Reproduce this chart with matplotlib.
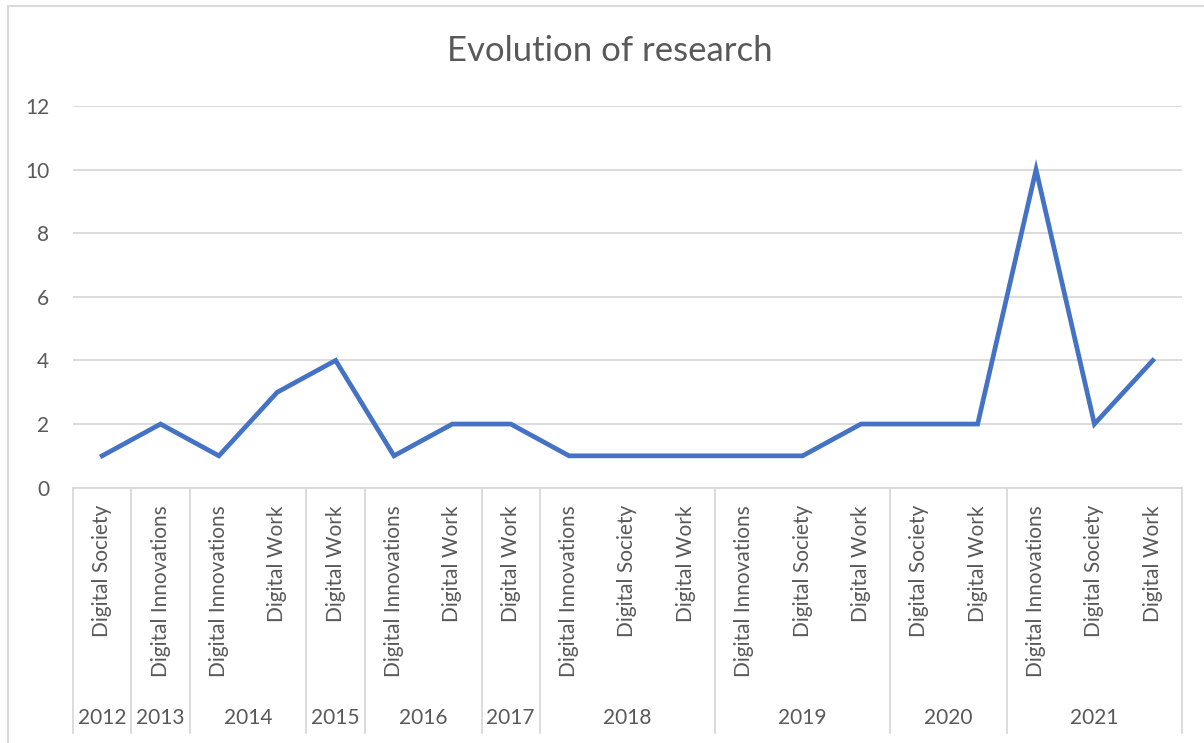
import matplotlib.pyplot as plt
from matplotlib.patches import Rectangle

years = ["2012", "2013", "2014", "2014", "2015", "2016", "2016", "2017",
         "2018", "2018", "2018", "2019", "2019", "2019", "2020", "2020",
         "2021", "2021", "2021"]
topics = ["Digital Society", "Digital Innovations", "Digital Innovations", "Digital Work",
          "Digital Work", "Digital Innovations", "Digital Work", "Digital Work",
          "Digital Innovations", "Digital Society", "Digital Work",
          "Digital Innovations", "Digital Society", "Digital Work",
          "Digital Society", "Digital Work",
          "Digital Innovations", "Digital Society", "Digital Work"]
counts = [1, 2, 1, 3, 4, 1, 2, 2, 1, 1, 1, 1, 1, 2, 2, 2, 10, 2, 4]

plt.rcParams['font.family'] = ['Lato', 'DejaVu Sans']
txt = "#595959"
grid = "#d9d9d9"
fs = 15

fig = plt.figure(figsize=(12.04, 7.43), dpi=100)
ax = fig.add_axes([0.0606, 0.3437, 0.9211, 0.5136])

x = list(range(len(counts)))
ax.plot(x, counts, color="#4472C4", linewidth=3.4, solid_joinstyle="miter", zorder=3)

ax.set_xlim(-0.5, len(counts) - 0.5)
ax.set_ylim(0, 12)
ax.set_yticks(range(0, 13, 2))
ax.yaxis.grid(True, color=grid, linewidth=1.3)
ax.set_axisbelow(True)
for s in ["top", "right", "left"]:
    ax.spines[s].set_visible(False)
ax.spines["bottom"].set_color(grid)
ax.spines["bottom"].set_linewidth(1.3)
ax.tick_params(axis="y", length=0, pad=17, labelsize=fs, labelcolor=txt)
ax.set_xticks([])

# etiquetas de categoria (rotadas)
for i, t in enumerate(topics):
    ax.text(i, -0.046, t, rotation=90, ha="center", va="top", fontsize=fs,
            color=txt, transform=ax.get_xaxis_transform())

# grupos por ano + linhas separadoras
bottom = -0.643
groups = []
for i, y in enumerate(years):
    if groups and groups[-1][0] == y:
        groups[-1][2] = i
    else:
        groups.append([y, i, i])
edges = [-0.5] + [g[2] + 0.5 for g in groups]
for e in edges:
    ax.plot([e, e], [0, bottom], color=grid, linewidth=1.3, clip_on=False,
            transform=ax.get_xaxis_transform())
for y, a, b in groups:
    ax.text((a + b) / 2, -0.604, y, ha="center", va="center", fontsize=fs,
            color=txt, transform=ax.get_xaxis_transform())

fig.text(610 / 1204, 1 - 51 / 743, "Evolution of research",
         ha="center", va="center", fontsize=25, color=txt)

fig.patches.append(Rectangle((0.007, -0.05), 1.05, 1.042, transform=fig.transFigure,
                             fill=False, edgecolor=grid, linewidth=1.5))

fig.savefig("out.png", dpi=100)
